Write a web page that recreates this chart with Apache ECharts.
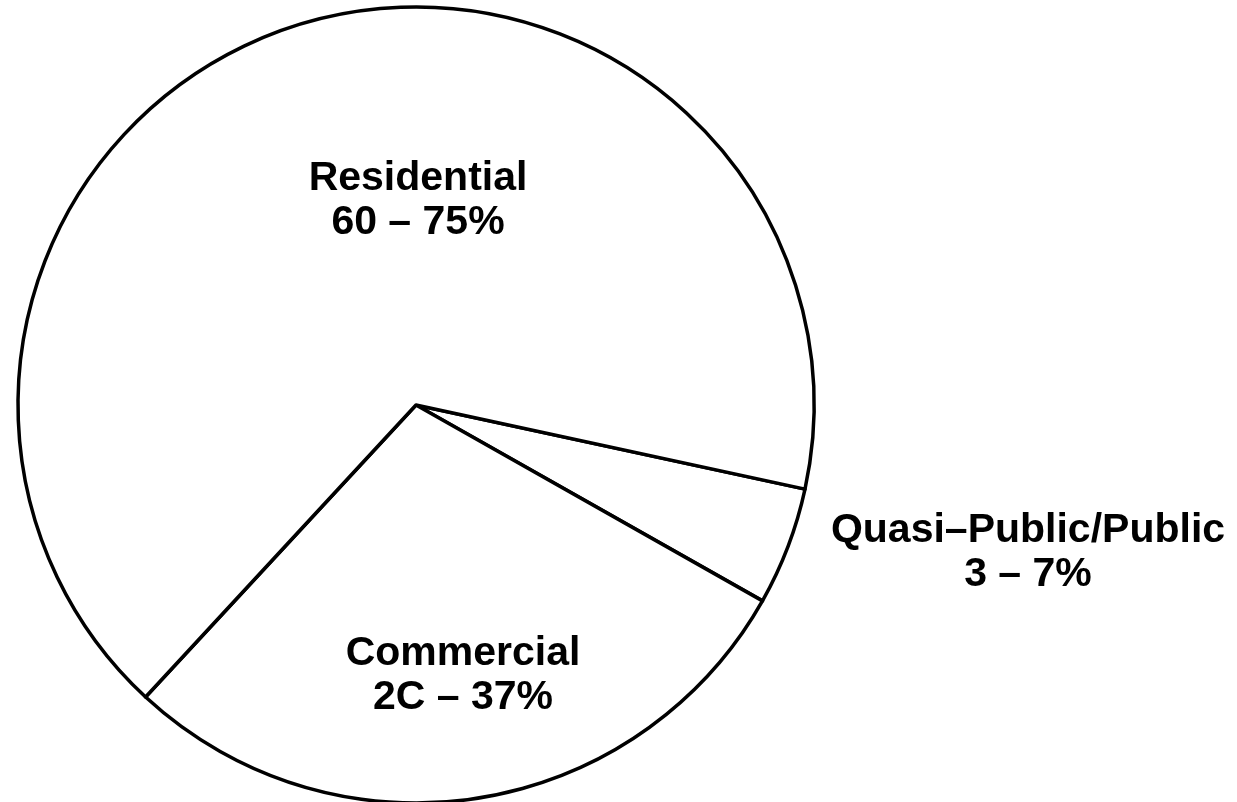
<!DOCTYPE html>
<html>
<head>
<meta charset="utf-8">
<title>Land use shares</title>
<script src="https://cdn.jsdelivr.net/npm/echarts@6/dist/echarts.min.js"></script>
<style>
  html, body { margin: 0; padding: 0; background: #fff; }
  #chart { width: 1237px; height: 802px; }
</style>
</head>
<body>
<div id="chart"></div>
<script>
// slice order follows the drawing, clockwise from just below 3 o'clock
const categories = ['Quasi\u2013Public/Public', 'Commercial', 'Residential']
const shares = [4.8, 28.7, 66.5]
const rangeLabels = ['3 \u2013 7%', '2C \u2013 37%', '60 \u2013 75%']

// where each label block sits (px)
const labelSpots = [[1028, 553], [463, 676], [418, 201]]

const chart = echarts.init(document.getElementById('chart'))

chart.setOption({
  backgroundColor: '#fff',
  animation: false,
  series: [
    {
      type: 'pie',
      center: [416, 405],
      radius: 398,
      startAngle: -12.2,
      clockwise: true,
      avoidLabelOverlap: false,
      silent: true,
      itemStyle: {
        color: '#fff',
        borderColor: '#000',
        borderWidth: 3.5,
        borderJoin: 'round'
      },
      label: {
        show: true,
        position: 'inside',
        color: '#000',
        fontFamily: 'Liberation Sans',
        fontWeight: 'bold',
        fontSize: 41,
        lineHeight: 44,
        align: 'center',
        formatter: p => p.name + '\n' + rangeLabels[p.dataIndex]
      },
      labelLine: { show: false },
      labelLayout: p => ({
        x: labelSpots[p.dataIndex][0],
        y: labelSpots[p.dataIndex][1],
        align: 'center',
        verticalAlign: 'middle'
      }),
      data: categories.map((name, i) => ({ name: name, value: shares[i] }))
    }
  ]
})
</script>
</body>
</html>
